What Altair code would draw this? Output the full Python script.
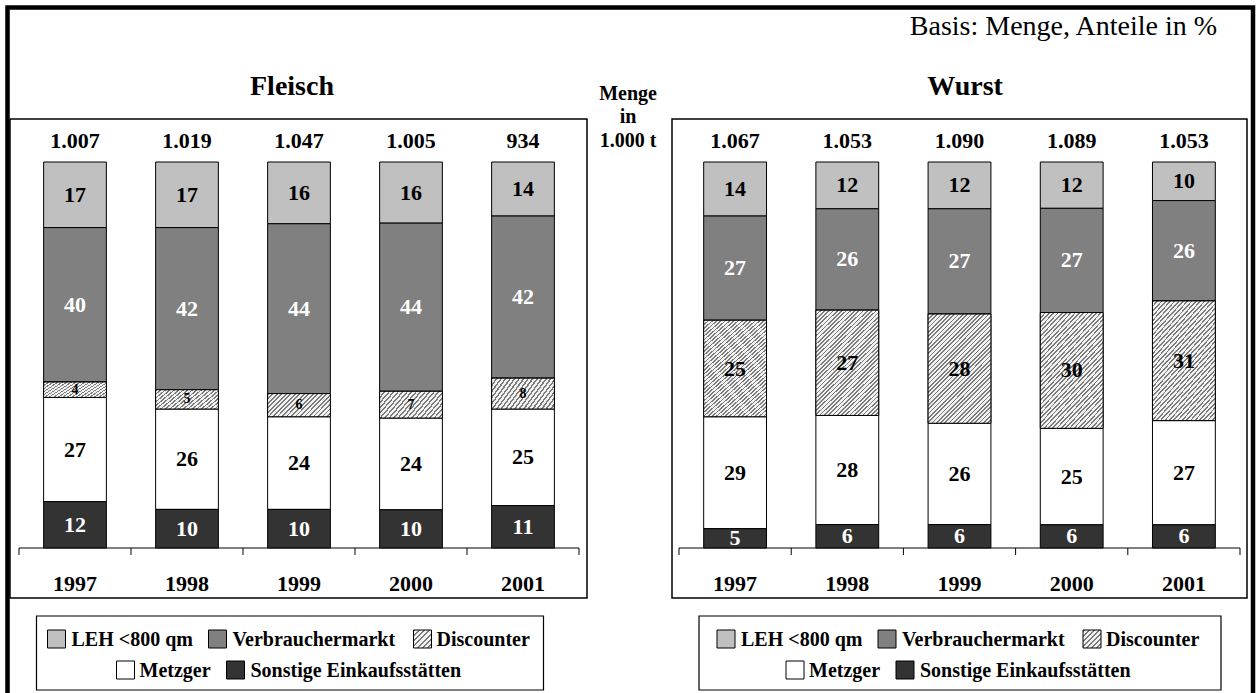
import altair as alt
import pandas as pd

SERIF = "Liberation Serif"

jahre = ["1997", "1998", "1999", "2000", "2001"]
# categories listed from top of the bar to the bottom
kategorien = ["LEH <800 qm", "Verbrauchermarkt", "Discounter", "Metzger", "Sonstige Einkaufsstätten"]
farben = ["#c0c0c0", "#808080", "#dcdcdc", "#ffffff", "#333333"]

fleisch_leh = [17, 17, 16, 16, 14]
fleisch_vm = [40, 42, 44, 44, 42]
fleisch_disc = [4, 5, 6, 7, 8]
fleisch_metz = [27, 26, 24, 24, 25]
fleisch_sonst = [12, 10, 10, 10, 11]
fleisch_menge = ["1.007", "1.019", "1.047", "1.005", "934"]

wurst_leh = [14, 12, 12, 12, 10]
wurst_vm = [27, 26, 27, 27, 26]
wurst_disc = [25, 27, 28, 30, 31]
wurst_metz = [29, 28, 26, 25, 27]
wurst_sonst = [5, 6, 6, 6, 6]
wurst_menge = ["1.067", "1.053", "1.090", "1.089", "1.053"]


def long_df(series):
    rows = []
    n = len(kategorien)
    for ci, (kat, vals) in enumerate(zip(kategorien, series)):
        for j, v in zip(jahre, vals):
            rows.append({"Jahr": j, "Kategorie": kat, "Wert": v, "Stapel": n - 1 - ci})
    return pd.DataFrame(rows)


fleisch_df = long_df([fleisch_leh, fleisch_vm, fleisch_disc, fleisch_metz, fleisch_sonst])
wurst_df = long_df([wurst_leh, wurst_vm, wurst_disc, wurst_metz, wurst_sonst])
fleisch_tot = pd.DataFrame({"Jahr": jahre, "Menge": fleisch_menge})
wurst_tot = pd.DataFrame({"Jahr": jahre, "Menge": wurst_menge})
dummy = pd.DataFrame({"d": [0]})


def hatch(k, n, line="#7c7c7c", bg="#f2f2f2", frac=0.4):
    a = (1 + k) / (1 + k * k)
    b = a * k
    stops = []
    for i in range(n):
        o0 = i / n
        o1 = (i + frac) / n
        o2 = (i + 1) / n
        stops += [
            {"offset": o0, "color": line},
            {"offset": o1, "color": line},
            {"offset": o1, "color": bg},
            {"offset": o2, "color": bg},
        ]
    return {"gradient": "linear", "x1": 0, "y1": 0, "x2": a, "y2": b, "stops": stops}


BASE_Y = 548
YS = alt.Scale(domain=[0, 1], range=[BASE_Y, 162], nice=False, zero=False)
WHITE_TEXT = "datum.Kategorie === 'Verbrauchermarkt' || datum.Kategorie === 'Sonstige Einkaufsstätten'"
PAD_IN, PAD_OUT = 0.44, 0.22
NUM = 22


def panel(df, tot, x_range, grad, disc_size):
    xs = alt.Scale(domain=jahre, range=x_range, paddingInner=PAD_IN, paddingOuter=PAD_OUT)
    step = (x_range[1] - x_range[0]) / len(jahre)
    edge = PAD_OUT * step  # gap between band edge and step edge
    base = alt.Chart(df).transform_stack(
        stack="Wert", groupby=["Jahr"], as_=["y0", "y1"], offset="normalize",
        sort=[alt.SortField("Stapel", order="ascending")],
    ).transform_calculate(mid="(datum.y0 + datum.y1) / 2")

    bars = base.mark_bar(stroke="black", strokeWidth=1).encode(
        x=alt.X("Jahr:N", scale=xs, axis=None),
        y=alt.Y("y0:Q", scale=YS, axis=None),
        y2="y1:Q",
        color=alt.Color("Kategorie:N", scale=alt.Scale(domain=kategorien, range=farben), legend=None),
    )
    hatch_bars = base.transform_filter("datum.Kategorie === 'Discounter'").mark_bar(
        fill=grad, stroke="black", strokeWidth=1
    ).encode(
        x=alt.X("Jahr:N", scale=xs, axis=None),
        y=alt.Y("y0:Q", scale=YS, axis=None),
        y2="y1:Q",
    )
    labels = base.mark_text(font=SERIF, fontWeight="bold", baseline="middle", align="center").encode(
        x=alt.X("Jahr:N", scale=xs, axis=None),
        y=alt.Y("mid:Q", scale=YS, axis=None),
        text="Wert:Q",
        color=alt.condition(WHITE_TEXT, alt.value("white"), alt.value("black")),
        size=alt.condition("datum.Kategorie === 'Discounter'", alt.value(disc_size), alt.value(NUM)),
    )
    totals = alt.Chart(tot).mark_text(
        font=SERIF, fontWeight="bold", fontSize=NUM, baseline="middle", align="center", color="black"
    ).encode(
        x=alt.X("Jahr:N", scale=xs, axis=None),
        y=alt.value(141),
        text="Menge:N",
    )
    years = alt.Chart(tot).mark_text(
        font=SERIF, fontWeight="bold", fontSize=NUM, baseline="middle", align="center", color="black"
    ).encode(
        x=alt.X("Jahr:N", scale=xs, axis=None),
        y=alt.value(584),
        text="Jahr:N",
    )
    # x axis line and ticks between the bands
    baseline = alt.Chart(dummy).mark_rule(color="black", strokeWidth=1).encode(
        x=alt.value(x_range[0]), x2=alt.value(x_range[1]), y=alt.value(BASE_Y)
    )
    ticks = alt.Chart(tot).mark_rule(color="black", strokeWidth=1, xOffset=-edge).encode(
        x=alt.X("Jahr:N", scale=xs, axis=None, bandPosition=0),
        y=alt.value(BASE_Y), y2=alt.value(BASE_Y + 7),
    )
    last_tick = alt.Chart(tot).transform_filter(
        alt.datum.Jahr == jahre[-1]
    ).mark_rule(color="black", strokeWidth=1, xOffset=edge).encode(
        x=alt.X("Jahr:N", scale=xs, axis=None, bandPosition=1),
        y=alt.value(BASE_Y), y2=alt.value(BASE_Y + 7),
    )
    return alt.layer(baseline, ticks, last_tick, bars, hatch_bars, labels, totals, years)


def box(x1, y1, x2, y2, sw):
    return alt.Chart(dummy).mark_rect(fill="white", fillOpacity=0, stroke="black", strokeWidth=sw).encode(
        x=alt.value(x1), x2=alt.value(x2), y=alt.value(y1), y2=alt.value(y2)
    )


def label(txt, x, y, size, weight="bold", align="center", baseline="alphabetic"):
    return alt.Chart(dummy).mark_text(
        text=txt, font=SERIF, fontSize=size, fontWeight=weight, align=align,
        baseline=baseline, color="black"
    ).encode(x=alt.value(x), y=alt.value(y))


SQ = 18
row1 = [(0, 11, 35), (1, 172, 196), (2, 377, 400)]
row2 = [(3, 80, 103), (4, 190, 214)]


def legend(x0, w, shift):
    layers = [box(x0, 616, x0 + w, 690, 1.2)]
    for items, yc in ((row1, 639), (row2, 670)):
        for ci, sx, tx in items:
            if kategorien[ci] == "Discounter":
                sq = alt.Chart(dummy).mark_rect(fill=hatch(1.0, 7), stroke="black", strokeWidth=1)
            else:
                sq = alt.Chart(dummy).mark_rect(fill=farben[ci], stroke="black", strokeWidth=1)
            layers.append(sq.encode(
                x=alt.value(x0 + shift + sx), x2=alt.value(x0 + shift + sx + SQ),
                y=alt.value(yc - SQ / 2), y2=alt.value(yc + SQ / 2),
            ))
            layers.append(label(kategorien[ci], x0 + shift + tx, yc + 1, 20, align="left", baseline="middle"))
    return layers


deco = [
    box(7.5, 7.5, 1253, 720, 4.5),
    box(10, 119, 587, 598, 1.5),
    box(672, 119, 1247, 598, 1.5),
    label("Fleisch", 292, 95, 28),
    label("Wurst", 965, 95, 28),
    label("Basis: Menge, Anteile in %", 1217, 35, 28, weight="normal", align="right"),
    label("Menge", 628, 100, 20),
    label("in", 628, 123, 20),
    label("1.000 t", 628, 147, 20),
] + legend(36.5, 507, 0) + legend(699, 522, 7)

p_fleisch = panel(fleisch_df, fleisch_tot, [19, 579], hatch(0.365, 19), 14)
p_wurst = panel(wurst_df, wurst_tot, [679, 1240], hatch(1.73, 40), NUM)

chart = alt.layer(*deco, p_fleisch, p_wurst).resolve_scale(x="independent").properties(
    width=1258, height=693, autosize=alt.AutoSizeParams(type="none"), padding=0,
    background="white",
).configure_view(stroke="transparent")

chart.save("out.html", embed_options={"renderer": "svg", "actions": False})
